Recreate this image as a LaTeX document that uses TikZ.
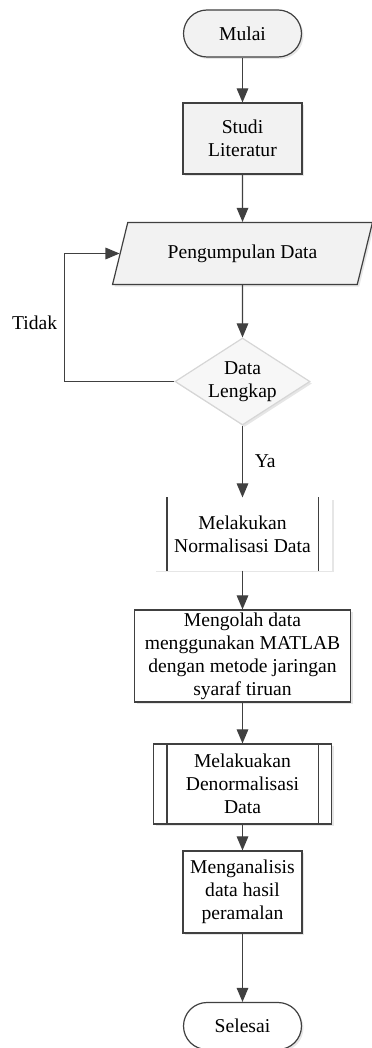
\documentclass[tikz,border=0pt]{standalone}
\usepackage{fontspec}
\setmainfont{Liberation Serif}
\usepackage{xcolor}
\usetikzlibrary{shapes.geometric, arrows, positioning, shadows}
\definecolor{linegray}{HTML}{404040}
\definecolor{fillgray}{HTML}{F2F2F2}
\definecolor{edgegray}{HTML}{D6D6D6}
\definecolor{shadowgray}{HTML}{E6E6E6}

\begin{document}
\begin{tikzpicture}[node distance=60pt, line width=0.6pt, font=\fontsize{9.8}{11.5}\selectfont]
    \tikzstyle{base} = [draw=linegray, fill=white, text centered, align=center, inner sep=1pt, drop shadow={shadow xshift=1pt, shadow yshift=-1pt, fill=shadowgray, opacity=1}]
    \tikzstyle{terminal} = [base, rectangle, rounded corners=11.75pt, minimum width=59pt, minimum height=23.5pt]
    \tikzstyle{process} = [base, rectangle, minimum width=59.5pt]
    \tikzstyle{subprocess} = [base, rectangle, minimum width=89pt]
    \tikzstyle{inout} = [base, trapezium, trapezium left angle=65, trapezium right angle=115, trapezium stretches=true, minimum width=131pt, minimum height=31pt, fill=fillgray]
    \tikzstyle{decision} = [base, diamond, aspect=1.55, inner sep=0pt, minimum width=67.5pt, minimum height=43.5pt, draw=edgegray, fill=fillgray!60]
    \tikzstyle{arrow} = [draw=linegray, ->, >=triangle 45]

    \useasboundingbox (0,0) rectangle (185.5pt,-524pt);

    \node (start) [terminal, fill=fillgray] at (121.25pt,-16.75pt) {Mulai};
    \node (lit) [process, fill=fillgray, minimum height=35.5pt, below of=start, yshift=7.5pt] {Studi\\Literatur};
    \node (collect) [inout, below of=lit, yshift=2.5pt] {Pengumpulan Data};
    \node (check) [decision, below of=collect, yshift=-4pt] {Data\\Lengkap};
    \node (norm) [subprocess, draw=white, minimum height=36pt, below of=check, yshift=-16.25pt] {Melakukan\\Normalisasi Data};
    \node (ann) [process, minimum width=108pt, minimum height=46pt, below of=norm, yshift=-1pt] {Mengolah data\\menggunakan MATLAB\\dengan metode jaringan\\syaraf tiruan};
    \node (denorm) [subprocess, minimum height=40pt, below of=ann, yshift=-4pt] {Melakuakan\\Denormalisasi\\Data};
    \node (analysis) [process, minimum height=41pt, below of=denorm, yshift=6pt] {Menganalisis\\data hasil\\peramalan};
    \node (finish) [terminal, below of=analysis, yshift=-7pt] {Selesai};

    % garis dalam subproses
    \draw [linegray] ([xshift=7pt]norm.north west) -- ([xshift=7pt]norm.south west);
    \draw [linegray] ([xshift=-7pt]norm.north east) -- ([xshift=-7pt]norm.south east);
    \draw [linegray] ([xshift=7pt]denorm.north west) -- ([xshift=7pt]denorm.south west);
    \draw [linegray] ([xshift=-7pt]denorm.north east) -- ([xshift=-7pt]denorm.south east);

    \draw [arrow] (start) -- (lit);
    \draw [arrow] (lit) -- (collect);
    \draw [arrow] (collect) -- (check);
    \draw [arrow] (check) -- node[anchor=west, xshift=2.5pt] {Ya} (norm);
    \draw [arrow] (check.west) -- ++(-55pt,0) |- node[pos=0.23, anchor=east] {Tidak} (collect);
    \draw [arrow] (norm) -- (ann);
    \draw [arrow] (ann) -- (denorm);
    \draw [arrow] (denorm) -- (analysis);
    \draw [arrow] (analysis) -- (finish);
\end{tikzpicture}
\end{document}
